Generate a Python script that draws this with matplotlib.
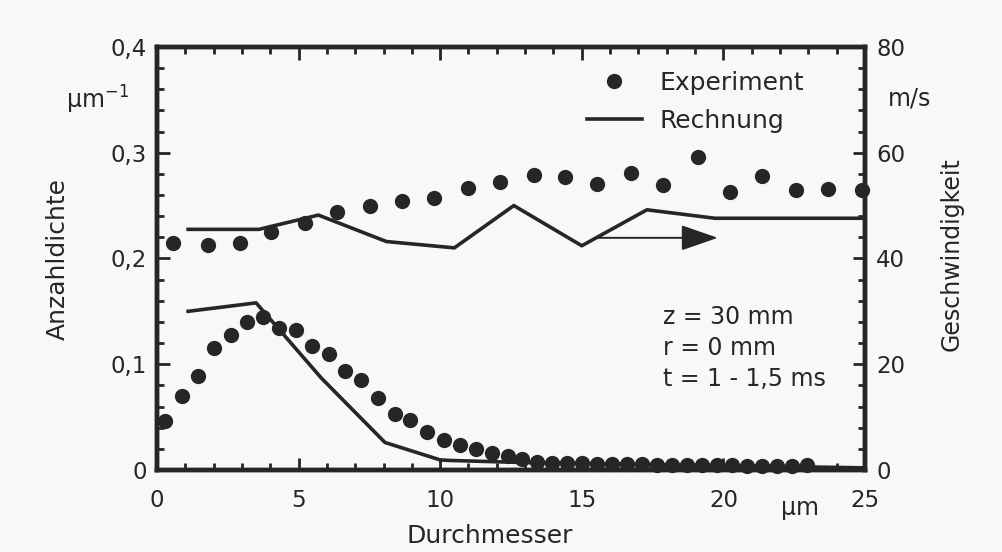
import matplotlib
matplotlib.use("Agg")
import matplotlib.pyplot as plt
from matplotlib.ticker import MultipleLocator, FixedLocator

plt.rcParams['font.family'] = ['DejaVu Sans']

# ---- data ----
# number density, experiment (left axis, 1/µm)
d_exp_x = [0.28, 0.87, 1.46, 2.03, 2.60, 3.17, 3.76, 4.32, 4.90, 5.49, 6.08, 6.64,
           7.21, 7.80, 8.41, 8.94, 9.53, 10.12, 10.71, 11.27, 11.83, 12.40, 12.90,
           13.43, 13.96, 14.49, 15.02, 15.55, 16.08, 16.61, 17.14, 17.67, 18.20,
           18.73, 19.26, 19.79, 20.32, 20.85, 21.38, 21.91, 22.44, 22.95]
d_exp_y = [0.046, 0.070, 0.089, 0.115, 0.128, 0.140, 0.145, 0.134, 0.132, 0.117, 0.110, 0.094,
           0.085, 0.068, 0.053, 0.047, 0.036, 0.028, 0.024, 0.020, 0.016, 0.0135, 0.010,
           0.008, 0.007, 0.007, 0.007, 0.006, 0.006, 0.006, 0.006, 0.005, 0.005,
           0.005, 0.005, 0.005, 0.005, 0.004, 0.004, 0.004, 0.004, 0.005]
# number density, calculation
d_calc_x = [1.1, 3.5, 5.8, 8.05, 10.0, 10.35, 13.0, 25.0]
d_calc_y = [0.150, 0.158, 0.087, 0.026, 0.0095, 0.009, 0.007, 0.002]

# velocity, experiment (right axis, m/s)
v_exp_x = [0.58, 1.79, 2.93, 4.03, 5.23, 6.35, 7.53, 8.65, 9.77, 11.0, 12.1, 13.3,
           14.42, 15.54, 16.73, 17.87, 19.09, 20.25, 21.37, 22.58, 23.69, 24.9]
v_exp_y = [42.9, 42.5, 42.9, 45.0, 46.7, 48.8, 49.9, 50.9, 51.4, 53.3, 54.5, 55.8,
           55.4, 54.1, 56.2, 53.9, 59.2, 52.6, 55.6, 52.9, 53.1, 52.9]
# velocity, calculation
v_calc_x = [1.1, 3.6, 5.7, 8.1, 10.5, 12.6, 15.0, 17.3, 19.7, 25.0]
v_calc_y = [45.5, 45.5, 48.2, 43.2, 42.0, 50.0, 42.4, 49.2, 47.6, 47.6]

x_ticks = [0, 5, 10, 15, 20, 25]
y_ticks = [0, 0.1, 0.2, 0.3, 0.4]
y_ticklabels = ['0', '0,1', '0,2', '0,3', '0,4']
v_ticks = [0, 20, 40, 60, 80]

ink = '#262626'
bg = '#f8f8f6'

fig = plt.figure(figsize=(10.03, 5.52), dpi=100, facecolor=bg)
ax = fig.add_axes([0.1565, 0.1486, 0.7059, 0.7664], facecolor=bg)
ax2 = ax.twinx()

ax.set_xlim(0, 25)
ax.set_ylim(0, 0.4)
ax2.set_ylim(0, 80)

ms = 11
lw = 2.6
ax.plot(d_exp_x, d_exp_y, 'o', color=ink, ms=ms, mec='none', label='Experiment', clip_on=False, zorder=3)
ax.plot(d_calc_x, d_calc_y, '-', color=ink, lw=lw, label='Rechnung', zorder=2)
ax2.plot(v_exp_x, v_exp_y, 'o', color=ink, ms=ms, mec='none', clip_on=False, zorder=3)
ax2.plot(v_calc_x, v_calc_y, '-', color=ink, lw=lw, zorder=2)

# arrow pointing to the right axis
ax2.annotate('', xy=(19.8, 43.9), xytext=(15.6, 43.9),
             arrowprops=dict(arrowstyle='-|>,head_length=2.3,head_width=0.8',
                             color=ink, lw=1.4, shrinkA=0, shrinkB=0))

# ticks
for a in (ax, ax2):
    for s in a.spines.values():
        s.set_linewidth(3.2)
        s.set_color(ink)

ax.xaxis.set_major_locator(FixedLocator(x_ticks))
ax.xaxis.set_minor_locator(MultipleLocator(1))
ax.yaxis.set_major_locator(FixedLocator(y_ticks))
ax.set_yticklabels(y_ticklabels)
ax.yaxis.set_minor_locator(MultipleLocator(0.02))
ax2.yaxis.set_major_locator(FixedLocator(v_ticks))
ax2.yaxis.set_minor_locator(MultipleLocator(4))

ax.tick_params(axis='both', which='both', direction='in', colors=ink, top=True, right=False)
ax.tick_params(axis='x', which='major', length=9, width=2, pad=14, labelsize=16.5)
ax.tick_params(axis='x', which='minor', length=5, width=2)
ax.tick_params(axis='y', which='major', length=9, width=2, pad=7, labelsize=16.5)
ax.tick_params(axis='y', which='minor', length=5, width=2)
ax2.tick_params(axis='y', which='both', direction='in', colors=ink)
ax2.tick_params(axis='y', which='major', length=9, width=2, pad=8, labelsize=16.5)
ax2.tick_params(axis='y', which='minor', length=5, width=2)

# axis labels as positioned text
fig.text(58 / 1003, 1 - 259 / 552, 'Anzahldichte', rotation=90, ha='center', va='center',
         fontsize=18, color=ink)
fig.text(952 / 1003, 1 - 254 / 552, 'Geschwindigkeit', rotation=90, ha='center', va='center',
         fontsize=17, color=ink)
fig.text(490 / 1003, 1 - 536 / 552, 'Durchmesser', ha='center', va='center', fontsize=18, color=ink)
fig.text(800 / 1003, 1 - 508 / 552, 'µm', ha='center', va='center', fontsize=17, color=ink)
fig.text(98 / 1003, 1 - 100 / 552, r'$\mathregular{µm^{-1}}$', ha='center', va='center',
         fontsize=17, color=ink)
fig.text(910 / 1003, 1 - 98 / 552, 'm/s', ha='center', va='center', fontsize=17, color=ink)

ax.text(663 / 1003, 1 - 348 / 552, 'z = 30 mm\nr = 0 mm\nt = 1 - 1,5 ms', transform=fig.transFigure,
        ha='left', va='center', fontsize=17, color=ink, linespacing=1.38)

leg = ax.legend(loc='upper left', bbox_to_anchor=(0.607, 0.943), frameon=False, fontsize=18,
                borderpad=0, handlelength=2.2, handletextpad=0.7, labelspacing=0.55,
                borderaxespad=0)
for t in leg.get_texts():
    t.set_color(ink)

fig.savefig('out.png', dpi=100, facecolor=bg)
